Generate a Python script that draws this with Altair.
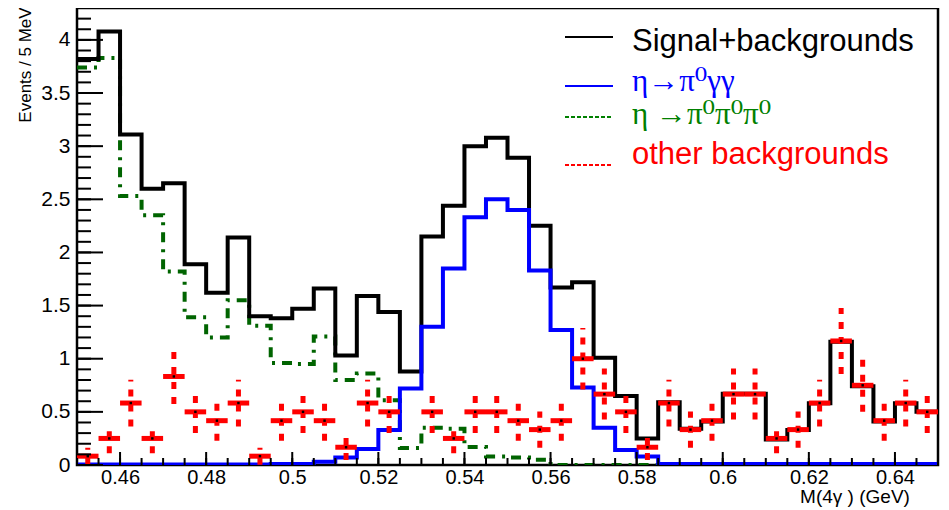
import altair as alt
import pandas as pd

# ---------------- data ----------------
x_lo = 0.45
bin_w = 0.005
n_bins = 40

total = [3.82, 4.08, 3.11, 2.60, 2.65, 1.89, 1.62, 2.14, 1.40, 1.38,
         1.47, 1.66, 1.03, 1.59, 1.44, 0.88, 2.15, 2.44, 3.00, 3.08,
         2.89, 2.25, 1.67, 1.72, 1.01, 0.65, 0.25, 0.59, 0.34, 0.41,
         0.67, 0.67, 0.24, 0.33, 0.58, 1.16, 0.74, 0.41, 0.58, 0.50]

signal = [0.005, 0.005, 0.005, 0.005, 0.005, 0.005, 0.005, 0.005, 0.005, 0.01,
          0.01, 0.03, 0.07, 0.15, 0.33, 0.72, 1.30, 1.85, 2.33, 2.50,
          2.40, 1.83, 1.27, 0.73, 0.35, 0.14, 0.08, 0.01, 0.01, 0.01,
          0.01, 0.01, 0.01, 0.01, 0.01, 0.01, 0.01, 0.01, 0.01, 0.01]

eta3pi = [3.74, 3.83, 2.53, 2.35, 1.82, 1.39, 1.20, 1.55, 1.31, 0.96,
          0.95, 1.21, 0.80, 0.86, 0.61, 0.16, 0.35, 0.34, 0.17, 0.08,
          0.07, 0.05, 0.0, 0.0, 0.0, 0.0, 0.0, 0.0, 0.0, 0.0,
          0.0, 0.0, 0.0, 0.0, 0.0, 0.0, 0.0, 0.0, 0.0, 0.0]

other = [0.083, 0.25, 0.583, 0.25, 0.833, 0.5, 0.417, 0.583, 0.083, 0.417,
         0.5, 0.417, 0.167, 0.583, 0.5, None, 0.5, 0.25, 0.5, 0.5,
         0.417, 0.333, 0.417, 1.0, 0.667, 0.5, 0.167, 0.583, 0.333, 0.417,
         0.667, 0.667, 0.25, 0.333, 0.583, 1.167, 0.75, 0.417, 0.583, 0.5]

other_err = [0.08, 0.14, 0.22, 0.14, 0.26, 0.2, 0.19, 0.22, 0.08, 0.19,
             0.2, 0.19, 0.12, 0.22, 0.2, None, 0.2, 0.14, 0.2, 0.2,
             0.19, 0.17, 0.19, 0.29, 0.24, 0.2, 0.12, 0.22, 0.17, 0.19,
             0.24, 0.24, 0.14, 0.17, 0.22, 0.31, 0.25, 0.19, 0.22, 0.2]

x_major = [0.46, 0.48, 0.50, 0.52, 0.54, 0.56, 0.58, 0.60, 0.62, 0.64]
y_major = [0, 0.5, 1, 1.5, 2, 2.5, 3, 3.5, 4]

legend_labels = ["Signal+backgrounds", "η→π⁰γγ", "η →π⁰π⁰π⁰", "other backgrounds"]

# ---------------- tables ----------------
edges = [round(x_lo + bin_w * i, 4) for i in range(n_bins + 1)]
step = pd.DataFrame({
    "x": edges,
    "total": total + [total[-1]],
    "signal": signal + [signal[-1]],
    "eta3pi": eta3pi + [eta3pi[-1]],
})

pts = pd.DataFrame({
    "lo": edges[:-1], "hi": edges[1:],
    "c": [round(e + bin_w / 2, 4) for e in edges[:-1]],
    "v": other, "err": other_err,
}).dropna()
pts["up"] = pts["v"] + pts["err"]
pts["dn"] = pts["v"] - pts["err"]

y_minor = pd.DataFrame({"t": [round(0.1 * i, 1) for i in range(44)]})
y_maj = pd.DataFrame({"t": y_major})
x_minor = pd.DataFrame({"t": edges})
x_maj = pd.DataFrame({"t": x_major})

W, H = 861, 457
xs = alt.Scale(domain=[0.45, 0.65], nice=False, zero=False)
ys = alt.Scale(domain=[0, 4.3], nice=False, zero=True)
FONT = "Liberation Sans"
SERIF = "Liberation Serif, DejaVu Serif"

X = alt.X("x:Q", scale=xs,
          axis=alt.Axis(values=x_major, format="~g", title=None, ticks=False,
                        domain=False, grid=False, labelFontSize=20, labelFont=FONT,
                        labelColor="black", labelPadding=2))
Y = alt.Y("total:Q", scale=ys,
          axis=alt.Axis(values=y_major, format="~g", title=None, ticks=False,
                        domain=False, grid=False, labelFontSize=21, labelFont=FONT,
                        labelColor="black", labelPadding=7))

base = alt.Chart(step)

green = base.mark_line(interpolate="step-after", color="#006400", strokeWidth=4,
                       strokeDash=[10, 7, 3, 7], clip=True).encode(
    x=alt.X("x:Q", scale=xs), y=alt.Y("eta3pi:Q", scale=ys))
black = base.mark_line(interpolate="step-after", color="black", strokeWidth=4,
                       clip=True).encode(x=X, y=Y)
blue = base.mark_line(interpolate="step-after", color="#0000ff", strokeWidth=4,
                      clip=True).encode(
    x=alt.X("x:Q", scale=xs), y=alt.Y("signal:Q", scale=ys))

pbase = alt.Chart(pts)
red_h = pbase.mark_rule(color="#ff0000", strokeWidth=5).encode(
    x=alt.X("lo:Q", scale=xs), x2="hi:Q", y=alt.Y("v:Q", scale=ys))
red_v = pbase.mark_rule(color="#ff0000", strokeWidth=5, strokeDash=[7, 8]).encode(
    x=alt.X("c:Q", scale=xs), y=alt.Y("dn:Q", scale=ys), y2="up:Q")
red_dot = pbase.mark_square(color="black", size=6, opacity=1).encode(
    x=alt.X("c:Q", scale=xs), y=alt.Y("v:Q", scale=ys))

# inward ticks
ytick_min = alt.Chart(y_minor).mark_rule(color="black", strokeWidth=2).encode(
    y=alt.Y("t:Q", scale=ys), x=alt.value(0), x2=alt.value(14))
ytick_maj = alt.Chart(y_maj).mark_rule(color="black", strokeWidth=2).encode(
    y=alt.Y("t:Q", scale=ys), x=alt.value(0), x2=alt.value(26))
xtick_min = alt.Chart(x_minor).mark_rule(color="black", strokeWidth=2).encode(
    x=alt.X("t:Q", scale=xs), y=alt.value(H), y2=alt.value(H - 7))
xtick_maj = alt.Chart(x_maj).mark_rule(color="black", strokeWidth=2).encode(
    x=alt.X("t:Q", scale=xs), y=alt.value(H), y2=alt.value(H - 13))

one = alt.Data(values=[{"a": 1}])

def txt(text, x, y, color, size, font, **kw):
    return alt.Chart(one).mark_text(text=text, color=color, fontSize=size, font=font,
                                    align=kw.pop("align", "left"), baseline="middle", **kw
                                    ).encode(x=alt.value(x), y=alt.value(y))

def leg_line(y, color, dash=None):
    kw = {"strokeDash": dash} if dash else {}
    return alt.Chart(one).mark_rule(color=color, strokeWidth=2, **kw).encode(
        x=alt.value(488), x2=alt.value(536), y=alt.value(y))

legend = [
    leg_line(29, "black"),
    leg_line(78, "#0000ff"),
    leg_line(109, "#008000", [4, 2]),
    leg_line(157, "#ff0000", [4, 2]),
    txt(legend_labels[0], 555, 34, "black", 31, FONT),
    txt(legend_labels[1], 555, 74, "#0000ff", 31, SERIF),
    txt(legend_labels[2], 555, 107, "#008000", 31, SERIF),
    txt(legend_labels[3], 555, 147, "#ff0000", 31, FONT),
]

titles = [
    txt("M(4γ )   (GeV)", 778, H + 32, "black", 19, FONT, align="center"),
    txt("Events / 5 MeV", -51, 57, "black", 17, FONT, align="center", angle=270),
]

chart = alt.layer(
    green, black, blue, red_h, red_v, red_dot,
    ytick_min, ytick_maj, xtick_min, xtick_maj,
    *legend, *titles
).properties(
    width=W, height=H,
    padding={"left": 69, "top": 0, "right": 3, "bottom": 45},
    autosize="none",
).configure_view(stroke="black", strokeWidth=2.5)

chart.save("out.html", embed_options={"renderer": "svg", "actions": False})
